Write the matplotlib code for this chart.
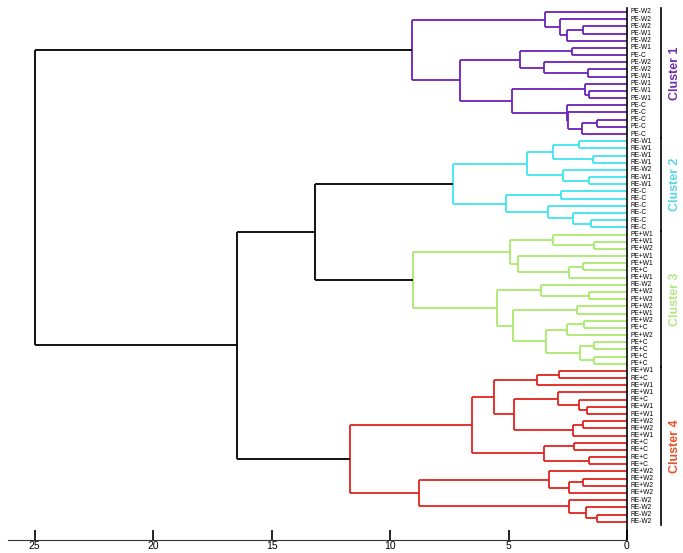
import matplotlib
matplotlib.use("Agg")
import matplotlib.pyplot as plt
import matplotlib.transforms as mtransforms

# ---------------- data ----------------
leaf_labels = [
    # cluster 1
    "PE-W2", "PE-W2", "PE-W2", "PE-W1", "PE-W2", "PE-W1", "PE-C", "PE-W2", "PE-W2",
    "PE-W1", "PE-W1", "PE-W1", "PE-W1", "PE-C", "PE-C", "PE-C", "PE-C", "PE-C",
    # cluster 2
    "RE-W1", "RE-W1", "RE-W1", "RE-W1", "RE-W2", "RE-W1", "RE-W1",
    "RE-C", "RE-C", "RE-C", "RE-C", "RE-C", "RE-C",
    # cluster 3
    "PE+W1", "PE+W1", "PE+W2", "PE+W1", "PE+W1", "PE+C", "PE+W1", "RE-W2", "PE+W2",
    "PE+W2", "PE+W2", "PE+W1", "PE+W2", "PE+C", "PE+W2", "PE+C", "PE+C", "PE+C", "PE+C",
    # cluster 4
    "RE+W1", "RE+C", "RE+W1", "RE+W1", "RE+C", "RE+W1", "RE+W1", "RE+W2", "RE+W2",
    "RE+W1", "RE+C", "RE+C", "RE+C", "RE+C", "RE+W2", "RE+W2", "RE+W2", "RE+W2",
    "RE-W2", "RE-W2", "RE-W2", "RE-W2",
]

# merge trees: (rescaled distance, left child, right child); ints are leaf indices
cluster1 = (9.08,
            (3.46, 0, (2.83, 1, (2.54, (1.85, 2, 3), 4))),
            (7.05,
             (4.51, (2.33, 5, 6), (3.50, 7, (1.64, 8, 9))),
             (4.85, (1.77, 10, (1.59, 11, 12)),
              (2.55, 13, (2.50, 14, (1.91, (1.25, 15, 16), 17))))))
cluster2 = (7.33,
            (4.23, (3.14, (2.02, 18, 19), (1.45, 20, 21)), (2.71, 22, (1.59, 23, 24))),
            (5.10, (2.78, 25, 26), (3.35, 27, (2.29, 28, (1.52, 29, 30)))))
cluster3 = (9.04,
            (4.94, (3.14, 31, (1.38, 32, 33)), (4.61, 34, (2.43, (1.84, 35, 36), 37))),
            (5.50, (3.63, 38, (1.59, 39, 40)),
             (4.80, (2.10, 41, 42),
              (3.42, (2.55, (1.80, 43, 44), 45), (1.98, (1.38, 46, 47), (1.38, 48, 49))))))
cluster4 = (11.69,
            (6.53,
             (5.62, (3.80, (2.88, 50, 51), 52),
              (4.75, (2.90, 53, (2.01, 54, (1.70, 55, 56))), (2.26, (1.87, 57, 58), 59))),
             (3.50, (2.22, 60, 61), (1.59, 62, 63))),
            (8.76, (3.29, 64, (2.45, (1.84, 65, 66), 67)),
             (2.45, 68, (1.74, 69, (1.25, 70, 71)))))

clusters = [cluster1, cluster2, cluster3, cluster4]
cluster_names = ["Cluster 1", "Cluster 2", "Cluster 3", "Cluster 4"]
cluster_line_colors = ["#6A22B8", "#3EE4F2", "#A9EA6C", "#E3231E"]
cluster_text_colors = ["#7030A8", "#5AD6E6", "#B3E884", "#E5542C"]
# top-level joins between clusters (strings refer to cluster index)
top_tree = (25.0, "0", (16.46, (13.16, "1", "2"), "3"))
x_ticks = [0, 5, 10, 15, 20, 25]

# ---------------- drawing ----------------
fig = plt.figure(figsize=(6.83, 5.53), dpi=100)
ax = fig.add_axes([8 / 683, 13 / 553, 619 / 683, 540 / 553])
ax.set_xlim(26.12, 0)
ax.set_ylim(73.55, -1.67)

LW = 1.3


def leaves(node):
    if isinstance(node, int):
        return [node]
    return leaves(node[1]) + leaves(node[2])


def draw(node, color):
    if isinstance(node, int):
        return float(node), 0.0
    if isinstance(node, str):
        k = int(node)
        return draw(clusters[k], cluster_line_colors[k])
    h, a, b = node
    ya, ha = draw(a, color)
    yb, hb = draw(b, color)
    ax.plot([ha, h], [ya, ya], color=color, lw=LW, solid_capstyle="butt", zorder=2)
    ax.plot([hb, h], [yb, yb], color=color, lw=LW, solid_capstyle="butt", zorder=2)
    ax.plot([h, h], [ya, yb], color=color, lw=LW, solid_capstyle="butt", zorder=2)
    return (ya + yb) / 2.0, h


draw(top_tree, "black")

# leaf labels
trans_lbl = mtransforms.blended_transform_factory(ax.transAxes, ax.transData)
for i, lab in enumerate(leaf_labels):
    ax.text(1.006, i, lab, transform=trans_lbl, fontsize=4.8,
            family="Liberation Sans", va="center", ha="left", clip_on=False)

# cluster brackets and names
for k, cl in enumerate(clusters):
    lv = leaves(cl)
    lo, hi = min(lv) - 0.5, max(lv) + 0.5
    ax.plot([1.055, 1.055], [lo, hi], transform=trans_lbl, color="black",
            lw=1.2, clip_on=False)
    ax.text(1.0775, (lo + hi) / 2, cluster_names[k], transform=trans_lbl,
            rotation=90, fontsize=9, fontweight="bold", family="Liberation Sans",
            color=cluster_text_colors[k], ha="center", va="center", clip_on=False)

# axes styling
for s in ["top", "left"]:
    ax.spines[s].set_visible(False)
ax.spines["right"].set_bounds(-0.55, 73.55)
ax.spines["right"].set_linewidth(1.2)
ax.spines["bottom"].set_linewidth(0.8)
ax.spines["bottom"].set_color("#333333")
ax.set_yticks([])
ax.set_xticks(x_ticks)
ax.set_xticklabels([str(t) for t in x_ticks], fontsize=7.5, family="Liberation Sans")
ax.tick_params(axis="x", direction="in", length=7, width=1.2, pad=1)

fig.savefig("out.png", dpi=100)
